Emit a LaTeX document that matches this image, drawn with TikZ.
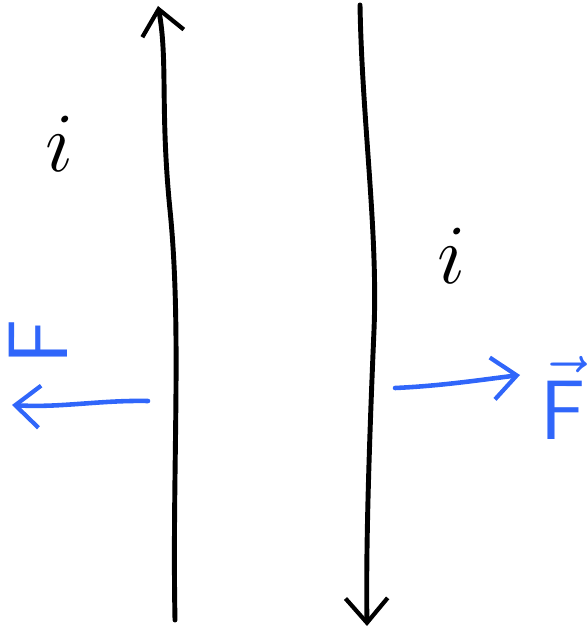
\RequirePackage{fix-cm}
\documentclass[tikz,border=0pt]{standalone}
\usepackage{amsmath}
\usepackage{tikz}
\usetikzlibrary{arrows.meta,calc,positioning}
\definecolor{forceblue}{RGB}{48,102,250}

\begin{document}
\begin{tikzpicture}[x=0.02cm,y=-0.02cm,line cap=round,line join=round,
  wire/.style={black,line width=2.8pt},
  force/.style={forceblue,line width=2.6pt},
  barb/.style={-{Straight Barb[length=14pt,width=24pt,line width=2.4pt]}},
  curlab/.style={font=\fontsize{48}{48}\selectfont},
  forcelab/.style={forceblue,font=\fontsize{48}{48}\selectfont\sffamily}]
 \useasboundingbox (0,0) rectangle (586,634);
 % wires
 \coordinate (lbot) at (175,620);
 \coordinate (ltop) at (158,6);
 \coordinate (rtop) at (360,5);
 \coordinate (rbot) at (367,626);
 \draw[wire,barb] (lbot)..controls(172,470) and (182,330)..(170,210)
   ..controls(160,110) and (168,60)..(ltop);
 \draw[wire,barb] (rtop)..controls(362,120) and (378,230)..(374,330)
   ..controls(368,470) and (366,560)..(rbot);
 % currents
 \node[curlab] (il) at (60,144) {$i$};
 \node[curlab] (ir) at (452,256) {$i$};
 % forces
 \coordinate (fl0) at (148,401);
 \coordinate (fl1) at (12,405);
 \coordinate (fr0) at (395,388);
 \coordinate (fr1) at (520,375);
 \draw[force,barb] (fl0)..controls(100,400) and (60,408)..(fl1);
 \draw[force,barb] (fr0)..controls(440,386) and (480,380)..(fr1);
 \node[forcelab,rotate=90] (Fl) at (38,342) {F};
 \node[forcelab] (Fr) at (563,398) {$\vec{\mathsf F}$};
\end{tikzpicture}
\end{document}
